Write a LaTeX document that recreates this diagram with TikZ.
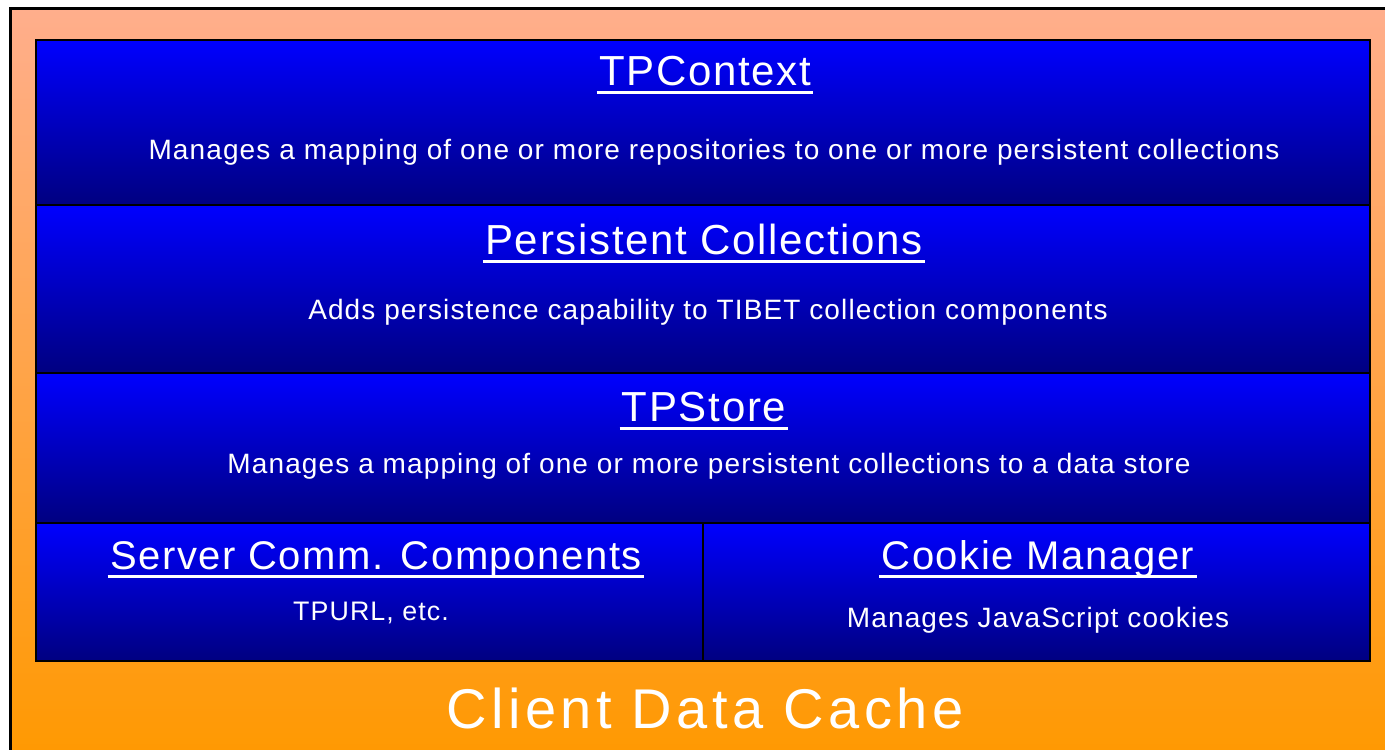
\documentclass[tikz,border=0pt]{standalone}
\usepackage{fontspec}
\setmainfont{Liberation Sans}[LetterSpace=4]
\usetikzlibrary{positioning}

\definecolor{navyblue}{RGB}{0,0,128}
\definecolor{salmon}{RGB}{255,174,140}
\definecolor{deeporange}{RGB}{255,153,0}

\begin{document}
\begin{tikzpicture}[
                x = 0.5pt, y = -0.5pt,
                layer/.style={ rectangle, draw = black, line width = 1.4pt, outer sep = 0pt, inner sep = 0pt,
                               top color = blue, bottom color = navyblue },
                title/.style={ text = white, anchor = base, inner sep = 0pt, font = \fontsize{21}{25}\selectfont },
                info/.style={ text = white, anchor = base, inner sep = 0pt, font = \fontsize{14}{17}\selectfont },
                uline/.style={ white, line width = 1.5pt }
            ]
            \path [fill = white, use as bounding box] (0, 0) rectangle (1385, 749);
            % orange cache background, runs off the page on the right and bottom
            \draw [line width = 1.5pt, top color = salmon, bottom color = deeporange] (10, 9) rectangle (1400, 762);

            \node (ctx)    [layer, anchor = north west, minimum width = 667pt, minimum height = 82.5pt] at (36, 40) {};
            \node (coll)   [layer, below = 0pt of ctx, minimum width = 667pt, minimum height = 84pt] {};
            \node (store)  [layer, below = 0pt of coll, minimum width = 667pt, minimum height = 75pt] {};
            \node (comm)   [layer, below right = 0pt of store.south west, minimum width = 333.5pt, minimum height = 69pt] {};
            \node (cookie) [layer, right = 0pt of comm, minimum width = 333.5pt, minimum height = 69pt] {};

            \node (ctxtitle)    [title] at (705, 86)  {TPContext};
            \node (ctxinfo)     [info]  at (714, 159) {Manages a mapping of one or more repositories to one or more persistent collections};
            \node (colltitle)   [title] at (704, 254) {Persistent Collections};
            \node (collinfo)    [info]  at (708, 319) {Adds persistence capability to TIBET collection components};
            \node (storetitle)  [title] at (704, 421) {TPStore};
            \node (storeinfo)   [info]  at (709, 473) {Manages a mapping of one or more persistent collections to a data store};
            \node (commtitle)   [title, font = \fontsize{20}{24}\selectfont] at (376, 569) {Server Comm. Components};
            \node (comminfo)    [info, font = \fontsize{13.4}{16}\selectfont] at (371, 620) {TPURL, etc.};
            \node (cookietitle) [title, font = \fontsize{20}{24}\selectfont] at (1038, 569) {Cookie Manager};
            \node (cookieinfo)  [info]  at (1038, 627) {Manages JavaScript cookies};
            \node (cache)       [title, font = \fontsize{28}{32}\addfontfeature{LetterSpace=8}] at (705, 728) {Client Data Cache};

            \foreach \t in {ctxtitle, colltitle, storetitle, commtitle, cookietitle}
                \draw [uline] ([xshift=-1pt, yshift=-3.5pt]\t.base west) -- ([xshift=1pt, yshift=-3.5pt]\t.base east);
        \end{tikzpicture}
\end{document}
